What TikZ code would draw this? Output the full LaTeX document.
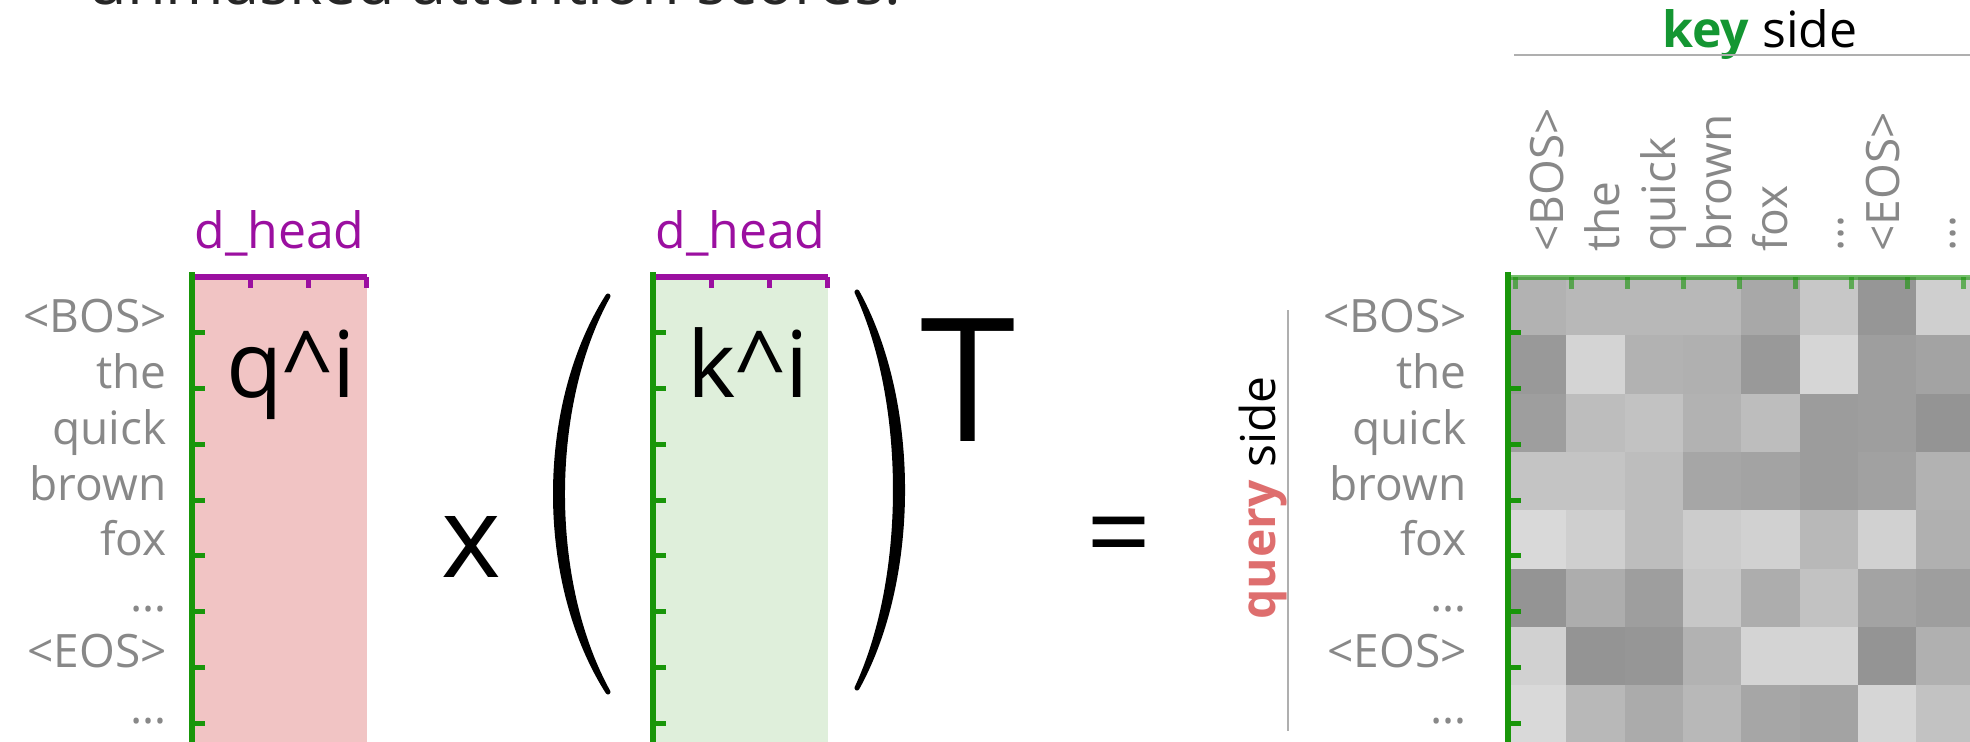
\documentclass[tikz,border=0pt]{standalone}
\usepackage{fontspec}
\setmainfont{Open Sans}

\definecolor{dimpurple}{RGB}{155,15,160}
\definecolor{axisgreen}{RGB}{25,150,10}
\definecolor{keygreen}{RGB}{20,150,50}
\definecolor{queryred}{RGB}{222,110,110}
\definecolor{qfill}{RGB}{241,196,196}
\definecolor{kfill}{RGB}{223,239,219}
\definecolor{tokgray}{RGB}{136,136,136}
\definecolor{rulegray}{RGB}{175,175,175}

\newcommand{\toklist}{<BOS>,the,quick,brown,fox,\dots,<EOS>,\dots}

\begin{document}
\begin{tikzpicture}[
  x=0.5pt, y=-0.5pt,
  tok/.style={inner sep=0pt, text=tokgray, font=\fontsize{23pt}{28pt}\selectfont},
  dimlbl/.style={inner sep=0pt, text=dimpurple, font=\fontsize{25pt}{28pt}\selectfont},
  sidelbl/.style={inner sep=0pt, font=\fontsize{24pt}{28pt}\selectfont},
  vecname/.style={inner sep=0pt, font=\fontsize{46pt}{50pt}\selectfont},
  opsym/.style={inner sep=0pt, font=\fontsize{57pt}{60pt}\selectfont},
  colbox/.style={inner sep=0pt, minimum width=87.5pt, minimum height=240pt, anchor=north west},
  axisline/.style={draw=axisgreen, line width=3pt},
  dimline/.style={draw=dimpurple, line width=2.8pt},
  tickmark/.style={line width=2.5pt},
  divider/.style={draw=rulegray, line width=0.8pt},
  paren/.style={fill=black, draw=black, line width=2.5pt, line join=round},
]
\useasboundingbox (0,0) rectangle (1970,741);
\clip (0,0) rectangle (1970,741);

\node[anchor=base west, inner sep=0pt, text=black!85, font=\fontsize{31.5pt}{34pt}\selectfont] (title) at (88,4) {unmasked attention scores:};

% q and k columns
\foreach \cx/\cf/\nm in {192/qfill/q, 653/kfill/k} {
  \node[colbox, fill=\cf] (\nm-col) at (\cx,277) {};
  \node[dimlbl, anchor=base] (\nm-dim) at (\cx+87.5,248) {d\_head};
  \node[vecname, anchor=base west] (\nm-vec) at (\cx+34,397) {\nm\textasciicircum i};
  \foreach \i in {1,2,3}
    \draw[tickmark, dimpurple] ({\cx+58.3*\i},277) -- +(0,11);
  \draw[dimline] (\cx,277) -- +(175,0);
  \foreach \k in {1,...,8}
    \draw[tickmark, axisgreen] (\cx,{277+55.75*\k}) -- +(13,0);
  \draw[axisline] (\cx,272) -- (\cx,760);
}
\foreach \tk [count=\k] in \toklist
  \node[tok, anchor=base east] (q-tok\k) at (167,{277+55.75*\k}) {\tk};

\node[opsym, anchor=base] (times) at (471,577) {x};
\fill[paren] (608,296) .. controls (538,406) and (538,582) .. (608,692)
  .. controls (547.3,582) and (547.3,406) .. cycle;
\fill[paren] (857,292) .. controls (917.7,402) and (917.7,578) .. (857,688)
  .. controls (908.3,578) and (908.3,402) .. cycle;
\node[inner sep=0pt, anchor=base, font=\fontsize{86pt}{90pt}\selectfont] (transp) at (968,441) {T};
\node[opsym, anchor=base] (eq) at (1119,572) {=};

% score matrix
\foreach \vals [count=\r from 0] in {
  {30,28,28,28,34,22,41,19},
  {40,17,30,31,40,16,38,36},
  {38,26,24,30,26,39,38,42},
  {23,23,26,35,36,39,37,30},
  {15,19,26,20,18,28,18,31},
  {42,32,38,22,32,24,36,38},
  {18,42,41,30,17,17,42,31},
  {15,28,33,28,35,36,16,24}}{
  \foreach \v [count=\c from 0] in \vals
    \fill[black!\v] ({1508+58.3*\c},{277+58.3*\r}) rectangle +(58.3,58.3);
}
\draw[axisgreen, opacity=0.6, line width=2.5pt] (1508,277.5) -- (1975,277.5);
\foreach \k in {0,...,8}
  \draw[tickmark, axisgreen, opacity=0.6] ({1515+56*\k},277) -- +(0,12);
\foreach \k in {1,...,8}
  \draw[tickmark, axisgreen] (1508,{277+55.75*\k}) -- +(13,0);
\draw[axisline] (1508,272) -- (1508,760);

\foreach \tk [count=\k] in \toklist {
  \node[tok, anchor=base east] (m-tok\k) at (1467,{277+55.75*\k}) {\tk};
  \node[tok, rotate=90, anchor=base west] (c-tok\k) at ({1507+56*\k},252) {\tk};
}

\node[sidelbl, rotate=90, anchor=base] (q-side) at (1275,498) {\textbf{\color{queryred}query} side};
\draw[divider] (1288,310) -- (1288,731);
\node[sidelbl, anchor=base, font=\fontsize{25pt}{28pt}\selectfont] (k-side) at (1760,47) {\textbf{\color{keygreen}key} side};
\draw[divider] (1514,55) -- (1975,55);
\end{tikzpicture}
\end{document}
